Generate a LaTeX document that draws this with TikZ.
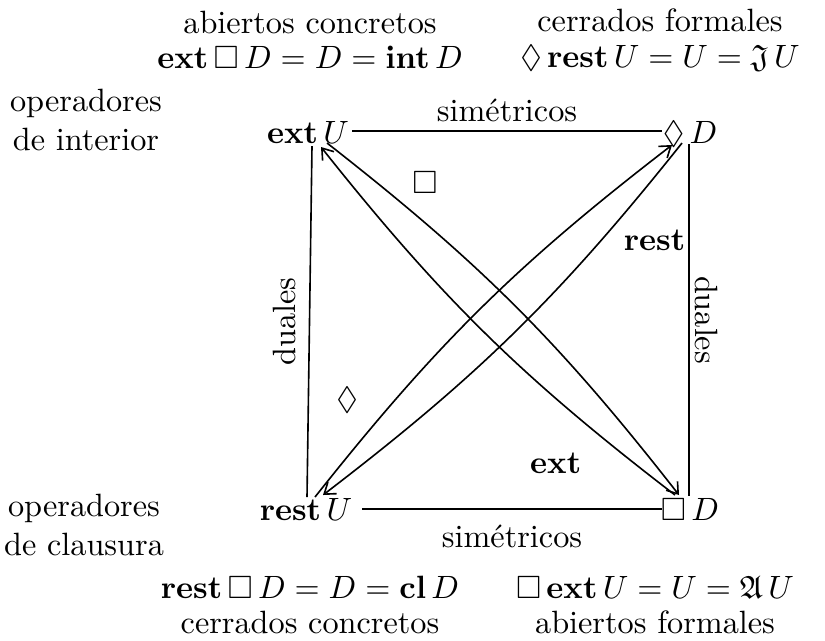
\documentclass[tikz,border=0pt]{standalone}
\usepackage{amsmath,amssymb}
\usetikzlibrary{arrows.meta,positioning}

\newcommand{\px}{0.31pt}

\begin{document}
\begin{tikzpicture}[
    x=0.31pt, y=-0.31pt,
    vertex/.style={inner sep=0pt, anchor=base},
    info/.style={align=center, inner sep=0pt},
    caption/.style={info, font=\fontsize{10}{11}\selectfont},
    link/.style={line width=0.5pt},
    arrow/.style={link, -{Straight Barb[length=3.2pt, width=4.5pt]}},
    tag/.style={inner sep=0pt}
]
\useasboundingbox (0,0) rectangle (825,640);

\node[vertex] (extU) at (308,143) {$\mathbf{ext}\,U$};
\node[vertex] (diaD) at (690,143) {$\Diamond\,D$};
\node[vertex] (restU) at (306,520) {$\mathbf{rest}\,U$};
\node[vertex] (boxD) at (690,520) {$\Box\,D$};

\node[caption] (openC) at (310,40) {abiertos concretos\\$\mathbf{ext}\,\Box\,D = D = \mathbf{int}\,D$};
\node[caption] (closedF) at (660,40) {cerrados formales\\$\Diamond\,\mathbf{rest}\,U = U = \mathfrak{J}\,U$};
\node[caption] (closedC) at (310,605) {$\mathbf{rest}\,\Box\,D = D = \mathbf{cl}\,D$\\cerrados concretos};
\node[caption] (openF) at (655,605) {$\Box\,\mathbf{ext}\,U = U = \mathfrak{A}\,U$\\abiertos formales};
\node[info] (interior) at (86,120) {operadores\\de interior};
\node[info] (clausura) at (84,525) {operadores\\de clausura};

\draw[link] ([xshift=44*\px, yshift=12*\px]extU.base) -- ([xshift=-28*\px, yshift=12*\px]diaD.base)
    node[midway, above=2.7pt, inner sep=0pt] {sim\'etricos};
\draw[link] ([xshift=56*\px, yshift=11*\px]restU.base) -- ([xshift=-28*\px, yshift=11*\px]boxD.base)
    node[midway, below=4.8pt, inner sep=0pt] {sim\'etricos};
\draw[link] ([xshift=4*\px, yshift=-3*\px]extU.base) -- ([xshift=1*\px, yshift=23*\px]restU.base)
    node[midway, rotate=90, anchor=south, inner sep=4pt] {duales};
\draw[link] ([xshift=-1*\px, yshift=-1*\px]diaD.base) -- ([xshift=-1*\px, yshift=24*\px]boxD.base)
    node[midway, rotate=-90, anchor=south, inner sep=1.8pt] {duales};

\draw[arrow] ([xshift=19*\px]extU.base) to[bend left=7]
    node[tag, pos=0.25, xshift=-5*\px, yshift=44*\px] {$\Box$} ([xshift=-11*\px, yshift=25*\px]boxD.base);
\draw[arrow] ([xshift=-15*\px, yshift=25*\px]boxD.base) to[bend left=7]
    node[tag, pos=0.2, xshift=-35*\px, yshift=-35*\px] {$\mathbf{ext}$} ([xshift=13*\px, yshift=-4*\px]extU.base);
\draw[arrow] ([xshift=9*\px, yshift=23*\px]restU.base) to[bend left=7]
    node[tag, pos=0.2, xshift=-37*\px, yshift=13*\px] {$\Diamond$} ([xshift=-18*\px, yshift=-2*\px]diaD.base);
\draw[arrow] ([xshift=-8*\px]diaD.base) to[bend left=7]
    node[tag, pos=0.2, xshift=42*\px, yshift=-13*\px] {$\mathbf{rest}$} ([xshift=17*\px, yshift=25*\px]restU.base);
\end{tikzpicture}
\end{document}
